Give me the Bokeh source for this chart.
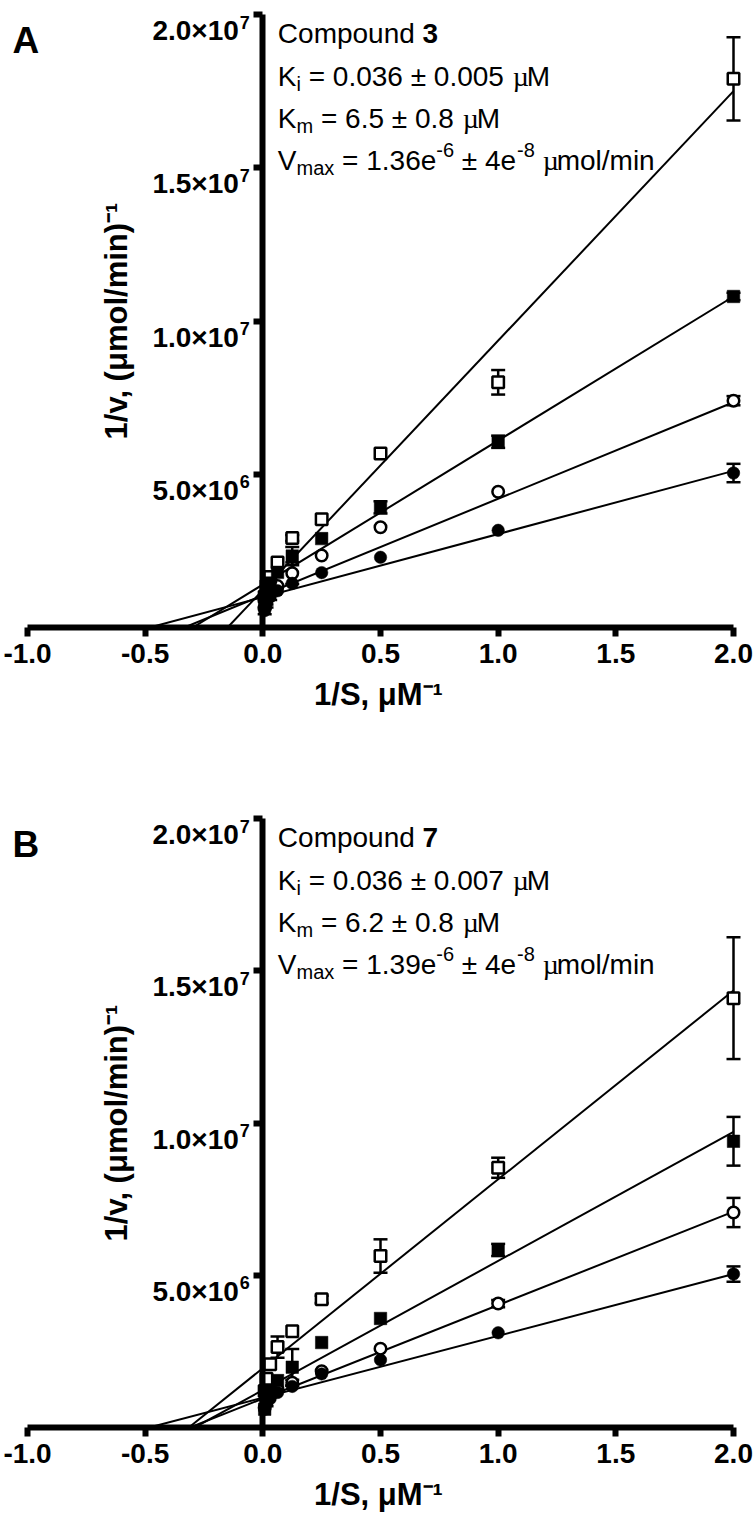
from bokeh.plotting import figure
from bokeh.models import Range1d, FixedTicker, Whisker, TeeHead, ColumnDataSource, Label
from bokeh.layouts import column
from bokeh.embed import file_html
from bokeh.resources import INLINE

FONT = "Liberation Sans"
SERIF = "Liberation Serif"

# ---------------- data ----------------
inv_s = [2.0, 1.0, 0.5, 0.25, 0.125, 0.0625, 0.03125, 0.015625, 0.0078125]

# Panel A (compound 3): 1/v values
a_no_inh   = [5.04e6, 3.17e6, 2.29e6, 1.79e6, 1.44e6, 1.20e6, 1.00e6, 0.80e6, 0.55e6]
a_inh_low  = [7.40e6, 4.43e6, 3.27e6, 2.35e6, 1.77e6, 1.35e6, 1.10e6, 0.90e6, 0.65e6]
a_inh_mid  = [10.8e6, 6.06e6, 3.92e6, 2.90e6, 2.33e6, 1.80e6, 1.45e6, 1.10e6, 0.75e6]
a_inh_high = [17.9e6, 8.00e6, 5.68e6, 3.53e6, 2.92e6, 2.12e6, 1.65e6, 1.35e6, 1.00e6]
a_no_inh_err   = [0.30e6, 0, 0, 0, 0, 0, 0.10e6, 0.15e6, 0.12e6]
a_inh_low_err  = [0.15e6, 0, 0, 0, 0.35e6, 0, 0, 0.15e6, 0]
a_inh_mid_err  = [0.12e6, 0.20e6, 0.20e6, 0, 0.30e6, 0, 0.15e6, 0, 0.15e6]
a_inh_high_err = [1.36e6, 0.40e6, 0, 0, 0.10e6, 0, 0, 0, 0]
a_fit_slope     = [2.06e6, 3.15e6, 4.70e6, 8.14e6]
a_fit_intercept = [0.99e6, 1.05e6, 1.40e6, 1.22e6]

# Panel B (compound 7)
b_no_inh   = [5.04e6, 3.11e6, 2.22e6, 1.76e6, 1.35e6, 1.15e6, 0.95e6, 0.80e6, 0.60e6]
b_inh_low  = [7.06e6, 4.07e6, 2.59e6, 1.85e6, 1.47e6, 1.25e6, 1.05e6, 0.85e6, 0.65e6]
b_inh_mid  = [9.40e6, 5.83e6, 3.58e6, 2.79e6, 1.98e6, 1.54e6, 1.20e6, 0.90e6, 0.60e6]
b_inh_high = [14.1e6, 8.53e6, 5.63e6, 4.21e6, 3.16e6, 2.64e6, 2.08e6, 1.60e6, 1.20e6]
b_no_inh_err   = [0.25e6, 0, 0, 0, 0, 0, 0, 0.10e6, 0]
b_inh_low_err  = [0.48e6, 0.12e6, 0, 0, 0.10e6, 0, 0, 0, 0]
b_inh_mid_err  = [0.80e6, 0.20e6, 0, 0, 0.60e6, 0, 0, 0, 0]
b_inh_high_err = [2.00e6, 0.33e6, 0.55e6, 0.12e6, 0, 0.35e6, 0, 0, 0]
b_fit_slope     = [2.03e6, 3.07e6, 4.24e6, 6.20e6]
b_fit_intercept = [0.98e6, 0.95e6, 1.23e6, 1.95e6]

x_ticks = [-1.0, -0.5, 0.0, 0.5, 1.0, 1.5, 2.0]
x_tick_labels = ["-1.0", "-0.5", "0.0", "0.5", "1.0", "1.5", "2.0"]
y_ticks = [5e6, 1e7, 1.5e7, 2e7]
y_tick_mantissa = ["5.0×10", "1.0×10", "1.5×10", "2.0×10"]
y_tick_exponent = ["6", "7", "7", "7"]

panel_letters = ["A", "B"]
compounds = ["3", "7"]
ki_vals = ["0.036", "0.036"]
ki_errs = ["0.005", "0.007"]
km_vals = ["6.5", "6.2"]
km_errs = ["0.8", "0.8"]
vmax_vals = ["1.36", "1.39"]
vmax_errs = ["4", "4"]

# marker styles: (marker, filled)
STYLES = [("circle", True), ("circle", False), ("square", True), ("square", False)]

# ---------------- helpers ----------------
W_SANS = {' ': 278, '.': 278, '=': 584, '±': 584, 'K': 667, 'V': 667, 'C': 722,
          'o': 556, 'm': 833, 'p': 556, 'u': 556, 'n': 556, 'd': 556, 'i': 222,
          'a': 556, 'x': 500, 'e': 556, '-': 333, 'l': 222, '/': 278, 'M': 833}


def text_w(s, size, serif=False):
    if serif:
        return 500 * len(s) * size / 1000
    return sum(W_SANS.get(c, 556) for c in s) * size / 1000


def add_rich(p, pieces, x0, base):
    x = x0
    for txt, kind in pieces:
        size, dy, style, font = 28, 0, "normal", FONT
        if kind == "sub":
            size, dy = 20, -7
        elif kind == "sup":
            size, dy = 20, 11
        elif kind == "bold":
            style = "bold"
        elif kind == "serif":
            font = SERIF
        serif = kind == "serif"
        core = txt.strip(" ")
        if not core:
            x += text_w(txt, size)
            continue
        lead = len(txt) - len(txt.lstrip(" "))
        trail = len(txt) - len(txt.rstrip(" "))
        x += text_w(" " * lead, size)
        p.add_layout(Label(x=0, y=2e7, x_units="data", y_units="data",
                           x_offset=x, y_offset=-base + dy, text=core,
                           text_font=font, text_font_size=f"{size}px",
                           text_font_style=style, text_baseline="alphabetic",
                           text_align="left", text_color="black"))
        x += text_w(core, size, serif=serif) + text_w(" " * trail, size)


PX_PER_X = (733 - 27) / 3.0   # px per unit of 1/S


def build(idx, series, errs, slopes, intercepts, y_end, height, frame_h):
    p = figure(width=756, height=height,
               x_range=Range1d(-1 - 27 / PX_PER_X, 2 + 23 / PX_PER_X),
               y_range=Range1d(0, y_end),
               output_backend="svg", toolbar_location=None,
               min_border_left=0, min_border_right=0,
               min_border_top=0, min_border_bottom=height - frame_h)
    p.grid.visible = False
    p.outline_line_color = None
    p.background_fill_color = "white"
    p.border_fill_color = "white"

    xa = p.xaxis[0]
    ya = p.yaxis[0]
    ya.fixed_location = 0
    xa.bounds = (-1, 2)
    ya.bounds = (0, 2e7)
    xa.ticker = FixedTicker(ticks=x_ticks)
    ya.ticker = FixedTicker(ticks=y_ticks)
    xa.major_label_overrides = {t: l for t, l in zip(x_ticks, x_tick_labels)}
    ya.major_label_overrides = {t: "" for t in y_ticks}
    xa.axis_label = "1/S, μM⁻¹"
    ya.axis_label = "1/v, (μmol/min)⁻¹"
    for ax in (xa, ya):
        ax.axis_line_width = 6
        ax.axis_line_color = "black"
        ax.major_tick_line_width = 6
        ax.major_tick_line_color = "black"
        ax.major_tick_out = 9
        ax.major_tick_in = 0
        ax.minor_tick_line_color = None
        ax.major_label_text_font = FONT
        ax.major_label_text_font_style = "bold"
        ax.major_label_text_font_size = "28px"
        ax.major_label_text_color = "black"
        ax.axis_label_text_font = FONT
        ax.axis_label_text_font_style = "bold"
        ax.axis_label_text_font_size = "31px"
        ax.axis_label_text_color = "black"
    xa.major_label_standoff = 7
    xa.axis_label_standoff = 11
    ya.major_label_standoff = 5
    ya.axis_label_standoff = 120

    # y tick labels with real superscripts
    for t, man, ex in zip(y_ticks, y_tick_mantissa, y_tick_exponent):
        sup_w = 0.556 * 18
        p.add_layout(Label(x=0, y=t, x_offset=-(14 + sup_w), y_offset=-16, text=man,
                           text_font=FONT, text_font_style="bold", text_font_size="28px",
                           text_baseline="alphabetic", text_align="right", text_color="black"))
        p.add_layout(Label(x=0, y=t, x_offset=-(13 + sup_w), y_offset=-7.5, text=ex,
                           text_font=FONT, text_font_style="bold", text_font_size="18px",
                           text_baseline="alphabetic", text_align="left", text_color="black"))

    # fit lines: from x-intercept to x = 2
    x0 = [-b / s for s, b in zip(slopes, intercepts)]
    x1 = [2.0] * len(slopes)
    y0 = [0.0] * len(slopes)
    y1 = [s * 2.0 + b for s, b in zip(slopes, intercepts)]
    p.segment(x0=x0, y0=y0, x1=x1, y1=y1, line_color="black", line_width=2)

    # error bars
    for vals, err in zip(series, errs):
        xs = [x for x, e in zip(inv_s, err) if e > 0]
        lo = [v - e for v, e in zip(vals, err) if e > 0]
        up = [v + e for v, e in zip(vals, err) if e > 0]
        src = ColumnDataSource(dict(x=xs, lower=lo, upper=up))
        w = Whisker(base="x", lower="lower", upper="upper", source=src,
                    line_width=2.5, line_color="black", level="underlay",
                    upper_head=TeeHead(size=14, line_width=2.5, line_color="black"),
                    lower_head=TeeHead(size=14, line_width=2.5, line_color="black"))
        p.add_layout(w)

    # markers: open ones first, filled on top
    for k in [1, 3, 2, 0]:
        marker, filled = STYLES[k]
        if filled:
            p.scatter(inv_s, series[k], marker=marker, size=12.5, fill_color="black",
                      line_color="black", line_width=0.5)
        else:
            p.scatter(inv_s, series[k], marker=marker, size=11.5, fill_color="white",
                      line_color="black", line_width=2.5)

    # panel letter
    p.add_layout(Label(x=-1, y=2e7, x_offset=-15, y_offset=-25.5, text=panel_letters[idx],
                       text_font=FONT, text_font_style="bold", text_font_size="37px",
                       text_baseline="alphabetic", text_align="left", text_color="black"))

    # annotation
    rows = [
        [("Compound ", "reg"), (compounds[idx], "bold")],
        [("K", "reg"), ("i", "sub"), (f" = {ki_vals[idx]} ± {ki_errs[idx]} ", "reg"),
         ("µ", "serif"), ("M", "reg")],
        [("K", "reg"), ("m", "sub"), (f" = {km_vals[idx]} ± {km_errs[idx]} ", "reg"),
         ("µ", "serif"), ("M", "reg")],
        [("V", "reg"), ("max", "sub"), (f" = {vmax_vals[idx]}e", "reg"), ("-6", "sup"),
         (f" ± {vmax_errs[idx]}e", "reg"), ("-8", "sup"), (" ", "reg"),
         ("µ", "serif"), ("mol/min", "reg")],
    ]
    for r, base in zip(rows, [19, 62, 104, 146]):
        add_rich(p, r, 15, base)
    return p


# Panel A: canvas from page y 0; 2e7 at y 14; 0 at y 627
pa = build(0, [a_no_inh, a_inh_low, a_inh_mid, a_inh_high],
           [a_no_inh_err, a_inh_low_err, a_inh_mid_err, a_inh_high_err],
           a_fit_slope, a_fit_intercept, 2e7 * (1 + 14 / 613), 790, 627)
# Panel B: canvas from page y 790; 2e7 at y 818; 0 at y 1427
pb = build(1, [b_no_inh, b_inh_low, b_inh_mid, b_inh_high],
           [b_no_inh_err, b_inh_low_err, b_inh_mid_err, b_inh_high_err],
           b_fit_slope, b_fit_intercept, 2e7 * (1 + 28 / 609), 740, 637)

layout = column(pa, pb)
open("out.html", "w").write(file_html(layout, INLINE))
